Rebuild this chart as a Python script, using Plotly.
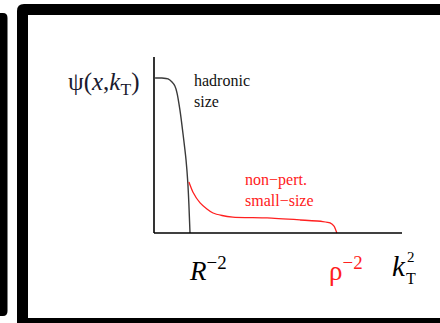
import plotly.graph_objects as go

# Schematic light-cone wave function psi(x, kT) versus kT^2 (arbitrary units)
hadronic_k2 = [0.03, 0.22, 0.39, 0.50, 0.58, 0.64, 0.72, 0.81, 0.89, 0.94, 0.97, 1.00]
hadronic_psi = [1.000, 1.000, 0.994, 0.974, 0.948, 0.903, 0.794, 0.632, 0.471, 0.323, 0.181, 0.000]

small_k2 = [0.97, 1.08, 1.28, 1.47, 1.64, 1.89, 2.19, 3.14, 4.06, 4.69, 4.89, 5.00, 5.08]
small_psi = [0.329, 0.265, 0.194, 0.155, 0.129, 0.113, 0.103, 0.097, 0.084, 0.074, 0.065, 0.045, 0.000]

tick_R = 1.00      # R^-2
tick_rho = 5.08    # rho^-2

W, H = 440, 323
X0_PX, Y0_PX = 154, 233   # pixel position of the origin
SX, SY = 36.0, 155.0      # pixels per unit

x_range = [-X0_PX / SX, (W - X0_PX) / SX]
y_range = [-(H - Y0_PX) / SY, Y0_PX / SY]


def px(xp):
    return xp / W


def py(yp):
    return 1 - yp / H


serif = "Liberation Serif"

fig = go.Figure()

fig.add_trace(go.Scatter(x=hadronic_k2, y=hadronic_psi, mode="lines",
                         line=dict(color="#3a3a3a", width=1.4, shape="spline", smoothing=0.6),
                         hoverinfo="skip"))
fig.add_trace(go.Scatter(x=small_k2, y=small_psi, mode="lines",
                         line=dict(color="#ff2020", width=1.3, shape="spline", smoothing=0.6),
                         hoverinfo="skip"))

shapes = []
# left neighbouring frame edge
shapes.append(dict(type="path", xref="paper", yref="paper", layer="below",
                   path=f"M {px(-2)},{py(13)} L {px(3)},{py(13)} Q {px(7.5)},{py(13)} {px(7.5)},{py(18)} "
                        f"L {px(7.5)},{py(311)} Q {px(7.5)},{py(316)} {px(3)},{py(316)} L {px(-2)},{py(316)} Z",
                   fillcolor="black", line=dict(width=0)))
# main frame
shapes.append(dict(type="path", xref="paper", yref="paper", layer="below",
                   path=f"M {px(17)},{py(330)} L {px(17)},{py(11)} Q {px(17)},{py(4)} {px(24)},{py(4)} "
                        f"L {px(450)},{py(4)} L {px(450)},{py(330)} Z",
                   fillcolor="black", line=dict(width=0)))
shapes.append(dict(type="rect", xref="paper", yref="paper", layer="below",
                   x0=px(28), x1=px(450), y0=py(15), y1=py(318),
                   fillcolor="white", line=dict(width=0)))
# axes
shapes.append(dict(type="line", xref="x", yref="y", x0=0, x1=0, y0=0, y1=(Y0_PX - 57) / SY,
                   line=dict(color="black", width=1.6)))
shapes.append(dict(type="line", xref="x", yref="y", x0=0, x1=(402 - X0_PX) / SX, y0=0, y1=0,
                   line=dict(color="black", width=1.6)))


def label(text, x, y, size, color="black", xanchor="left", xref="paper"):
    return go.layout.Annotation(
        x=x, y=y, xref=xref, yref="paper", xanchor=xanchor, yanchor="middle",
        text=text, showarrow=False, align="left",
        font=go.layout.annotation.Font(family=serif, size=size, color=color))


annotations = [
    label("ψ(<i>x</i>,<i>k</i><sub>T</sub>)", px(141), py(83), 25, "#1a1a2e", "right"),
    label("hadronic<br>size", px(192), py(91), 16, "#111111"),
    label("non−pert.<br>small−size", px(243), py(190), 16, "#ff2020"),
    label("<i>R</i><sup>−2</sup>", tick_R - 0.08, py(269), 27, "black", "left", "x"),
    label("ρ<sup>−2</sup>", tick_rho - 0.27, py(269), 27, "#ff2020", "left", "x"),
    label("<i>k</i>", px(390), py(266), 29),
    label("2", px(405), py(257), 15),
    label("T", px(404), py(278), 16),
]

fig.update_layout(
    width=W, height=H, margin=dict(l=0, r=0, t=0, b=0),
    paper_bgcolor="white", plot_bgcolor="rgba(0,0,0,0)",
    showlegend=False,
    font=dict(family=serif, size=16, color="black"),
    xaxis=dict(range=x_range, visible=False, fixedrange=True),
    yaxis=dict(range=y_range, visible=False, fixedrange=True),
    shapes=shapes, annotations=annotations,
)

fig.write_html("out.html")
